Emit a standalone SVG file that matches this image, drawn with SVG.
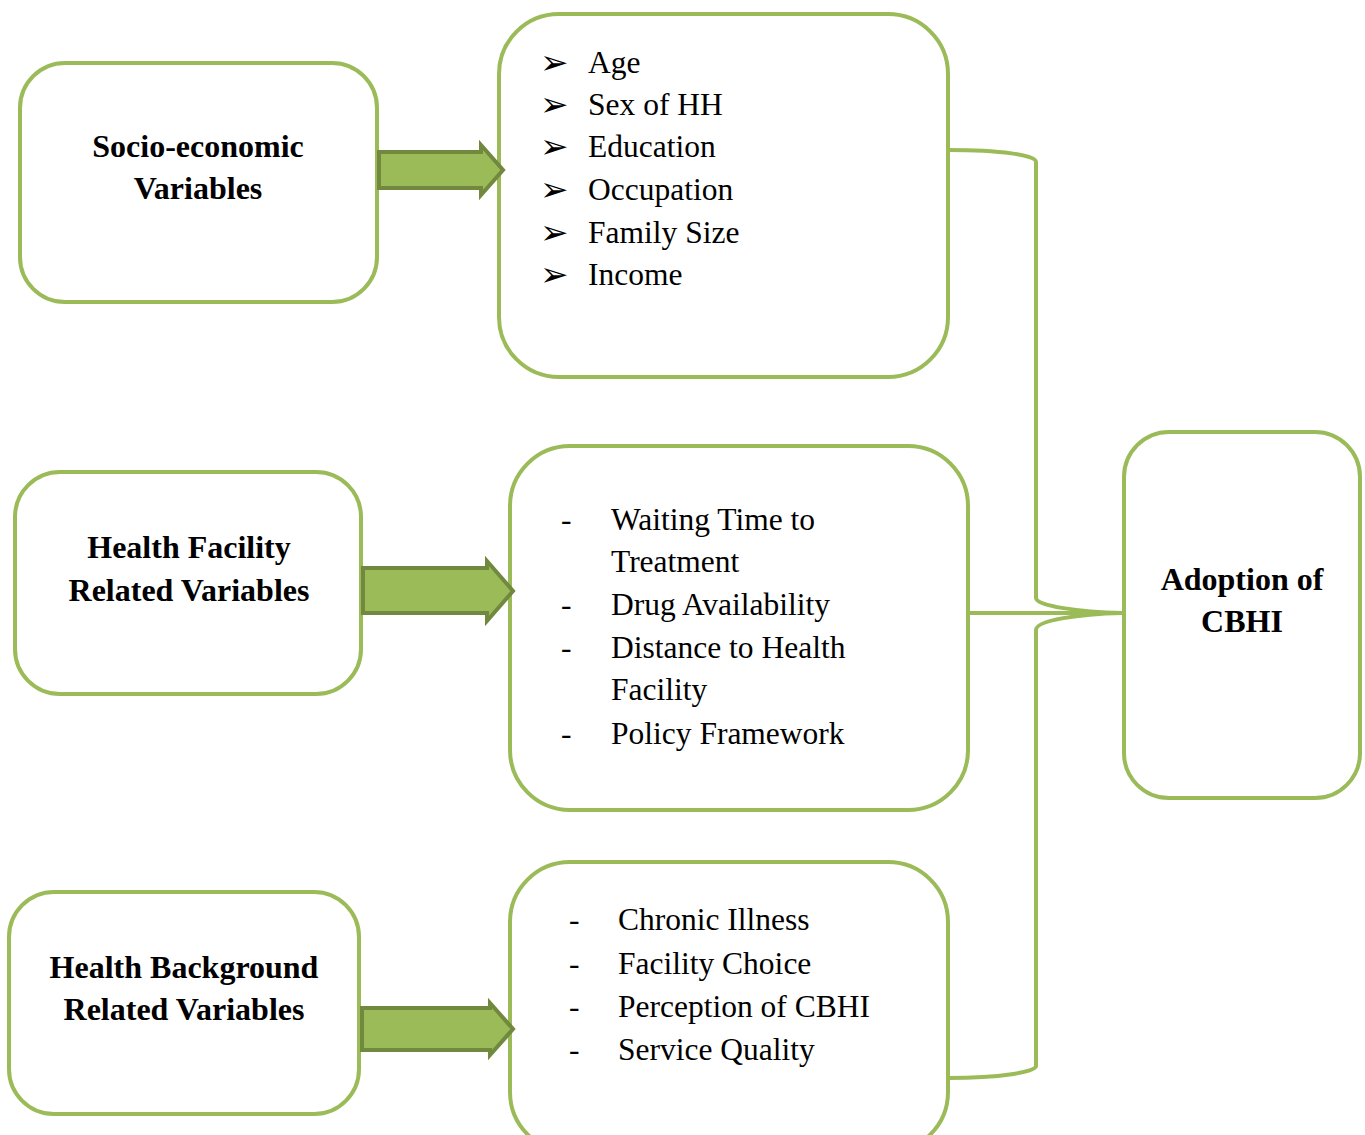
<svg xmlns="http://www.w3.org/2000/svg" width="1365" height="1135" viewBox="0 0 1365 1135">
<style>
.box{fill:#fff;stroke:#9BBB59;stroke-width:4}
.arr{fill:#9BBB59;stroke:#71893F;stroke-width:4;stroke-linejoin:miter}
.con{fill:none;stroke:#9BBB59;stroke-width:4}
.lbl{font-family:"Liberation Serif",serif;font-weight:bold;font-size:32px;fill:#000;text-anchor:middle}
.itm{font-family:"Liberation Serif",serif;font-size:31.5px;fill:#000}
.bul{font-family:"DejaVu Sans",sans-serif;font-size:34px;fill:#000}
</style>
<rect width="1365" height="1135" fill="#fff"/>
<g id="connectors">
<path class="con" d="M948,150 C1000,150 1036,155 1036,162 L1036,598 C1036,606 1080,612 1122,613"/>
<path class="con" d="M948,1078 C1000,1078 1036,1072 1036,1066 L1036,630 C1036,620 1080,614 1122,613"/>
<path class="con" d="M968,613 L1124,613"/>
</g>
<g id="socio">
<rect class="box" x="20" y="63" width="357" height="239" rx="45"/>
<text class="lbl" x="198" y="157">Socio-economic</text>
<text class="lbl" x="198" y="199">Variables</text>
</g>
<g id="socio-list">
<rect class="box" x="499" y="14" width="449" height="363" rx="60"/>
<text class="bul" x="540" y="74">➢</text>
<text class="bul" x="540" y="116">➢</text>
<text class="bul" x="540" y="158">➢</text>
<text class="bul" x="540" y="201">➢</text>
<text class="bul" x="540" y="244">➢</text>
<text class="bul" x="540" y="286">➢</text>
<text class="itm" x="588" y="73">Age</text>
<text class="itm" x="588" y="115">Sex of HH</text>
<text class="itm" x="588" y="157">Education</text>
<text class="itm" x="588" y="200">Occupation</text>
<text class="itm" x="588" y="243">Family Size</text>
<text class="itm" x="588" y="285">Income</text>
</g>
<g id="facility">
<rect class="box" x="15" y="472" width="346" height="222" rx="45"/>
<text class="lbl" x="189" y="558">Health Facility</text>
<text class="lbl" x="189" y="601">Related Variables</text>
</g>
<g id="facility-list">
<rect class="box" x="510" y="446" width="458" height="364" rx="60"/>
<text class="itm" x="561" y="530">-</text>
<text class="itm" x="611" y="530">Waiting Time to</text>
<text class="itm" x="611" y="572">Treatment</text>
<text class="itm" x="561" y="615">-</text>
<text class="itm" x="611" y="615">Drug Availability</text>
<text class="itm" x="561" y="658">-</text>
<text class="itm" x="611" y="658">Distance to Health</text>
<text class="itm" x="611" y="700">Facility</text>
<text class="itm" x="561" y="744">-</text>
<text class="itm" x="611" y="744">Policy Framework</text>
</g>
<g id="background">
<rect class="box" x="9" y="892" width="350" height="222" rx="45"/>
<text class="lbl" x="184" y="978">Health Background</text>
<text class="lbl" x="184" y="1020">Related Variables</text>
</g>
<g id="background-list">
<rect class="box" x="510" y="862" width="438" height="290" rx="60"/>
<text class="itm" x="569" y="930">-</text>
<text class="itm" x="618" y="930">Chronic Illness</text>
<text class="itm" x="569" y="974">-</text>
<text class="itm" x="618" y="974">Facility Choice</text>
<text class="itm" x="569" y="1017">-</text>
<text class="itm" x="618" y="1017">Perception of CBHI</text>
<text class="itm" x="569" y="1060">-</text>
<text class="itm" x="618" y="1060">Service Quality</text>
</g>
<g id="adoption">
<rect class="box" x="1124" y="432" width="236" height="366" rx="45"/>
<text class="lbl" x="1242" y="590">Adoption of</text>
<text class="lbl" x="1242" y="632">CBHI</text>
</g>
<g id="arrow1"><path class="arr" d="M379,152 L481,152 L481,145 L503,170 L481,195 L481,188 L379,188 Z"/></g>
<g id="arrow2"><path class="arr" d="M363,568 L487,568 L487,561 L513,591 L487,621 L487,613 L363,613 Z"/></g>
<g id="arrow3"><path class="arr" d="M362,1008 L490,1008 L490,1003 L513,1029 L490,1055 L490,1050 L362,1050 Z"/></g>
</svg>
